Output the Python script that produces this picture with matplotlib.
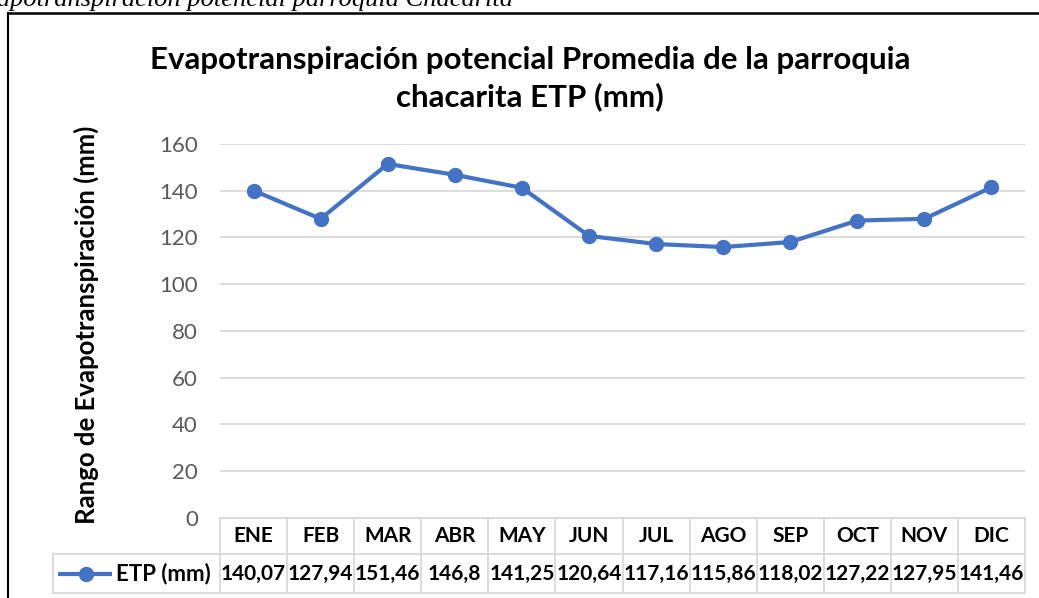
import matplotlib.pyplot as plt
from matplotlib.transforms import blended_transform_factory
from matplotlib.lines import Line2D

W, H = 1039, 598

meses = ["ENE", "FEB", "MAR", "ABR", "MAY", "JUN", "JUL", "AGO", "SEP", "OCT", "NOV", "DIC"]
etp = [140.07, 127.94, 151.46, 146.8, 141.25, 120.64, 117.16, 115.86, 118.02, 127.22, 127.95, 141.46]
etiquetas = ["140,07", "127,94", "151,46", "146,8", "141,25", "120,64",
             "117,16", "115,86", "118,02", "127,22", "127,95", "141,46"]
yticks = [0, 20, 40, 60, 80, 100, 120, 140, 160]

plt.rcParams['font.family'] = ['Lato', 'DejaVu Sans']
azul = '#4472C4'
gris = '#d9d9d9'

fig = plt.figure(figsize=(W / 100, H / 100), dpi=100)

def fx(x):
    return x / W

def fy(y):
    return 1 - y / H

# plot area in pixels
left, right, top, bottom = 220, 1025, 144, 517.6
ax = fig.add_axes([fx(left), fy(bottom), fx(right - left), (bottom - top) / H])

x = list(range(len(meses)))
ax.plot(x, etp, color=azul, lw=3, marker='o', ms=10, zorder=3)
ax.set_xlim(-0.5, len(meses) - 0.5)
ax.set_ylim(0, 160)
ax.set_yticks(yticks)
ax.set_yticklabels([str(v) for v in yticks], fontsize=16, color='#595959')
ax.tick_params(axis='y', length=0, pad=16)
ax.set_xticks([])
for s in ax.spines.values():
    s.set_visible(False)
ax.grid(axis='y', color=gris, lw=1.3)
ax.set_axisbelow(True)

# frame of chart (cut at the right and bottom)
fig.add_artist(Line2D([fx(7.5), fx(7.5)], [fy(13), 0], color='black', lw=1.5))
fig.add_artist(Line2D([fx(7.5), 1], [fy(13), fy(13)], color='black', lw=1.8))

# caption above the chart, cut at the left and top
fig.text(fx(513), fy(6), "Evapotranspiración potencial parroquia Chacarita",
         family='Liberation Serif', style='italic', fontsize=19, ha='right', va='baseline')

fig.text(fx(530), fy(60), "Evapotranspiración potencial Promedia de la parroquia",
         fontsize=22.5, fontweight='bold', ha='center', va='center')
fig.text(fx(530), fy(97), "chacarita ETP (mm)",
         fontsize=22.5, fontweight='bold', ha='center', va='center')

fig.text(fx(86), fy(325), "Rango de Evapotranspiración (mm)", rotation=90,
         fontsize=18.5, fontweight='bold', ha='center', va='center')

# data table below the axis
tr = blended_transform_factory(ax.transData, ax.transAxes)
ah = bottom - top
r1 = -(554 - bottom) / ah
r2 = -(593 - bottom) / ah
n = len(meses)
for i in range(n + 1):
    ax.plot([i - 0.5, i - 0.5], [0, r2], transform=tr, color=gris, lw=1.3, clip_on=False)
ax.plot([-0.5, n - 0.5], [r1, r1], transform=tr, color=gris, lw=1.3, clip_on=False)
ax.plot([-0.5, n - 0.5], [r2, r2], transform=tr, color=gris, lw=1.3, clip_on=False)
ax.plot([-0.5, n - 0.5], [0, 0], transform=tr, color=gris, lw=1.3, clip_on=False)

# legend cell
fig.add_artist(Line2D([fx(53), fx(left)], [fy(554), fy(554)], color=gris, lw=1.3))
fig.add_artist(Line2D([fx(53), fx(left)], [fy(593), fy(593)], color=gris, lw=1.3))
fig.add_artist(Line2D([fx(53), fx(53)], [fy(554), fy(593)], color=gris, lw=1.3))
fig.add_artist(Line2D([fx(58), fx(112)], [fy(574), fy(574)], color=azul, lw=3,
                      solid_capstyle='butt'))
fig.add_artist(Line2D([fx(86)], [fy(574)], color=azul, marker='o', ms=10))
fig.text(fx(116), fy(574), "ETP (mm)", fontsize=16, fontweight='bold', ha='left', va='center')

for i, (m, t) in enumerate(zip(meses, etiquetas)):
    ax.text(i, (0 + r1) / 2, m, transform=tr, fontsize=15, fontweight='bold',
            ha='center', va='center')
    ax.text(i, (r1 + r2) / 2, t, transform=tr, fontsize=15, fontweight='bold',
            ha='center', va='center')

fig.savefig("out.png", dpi=100)
